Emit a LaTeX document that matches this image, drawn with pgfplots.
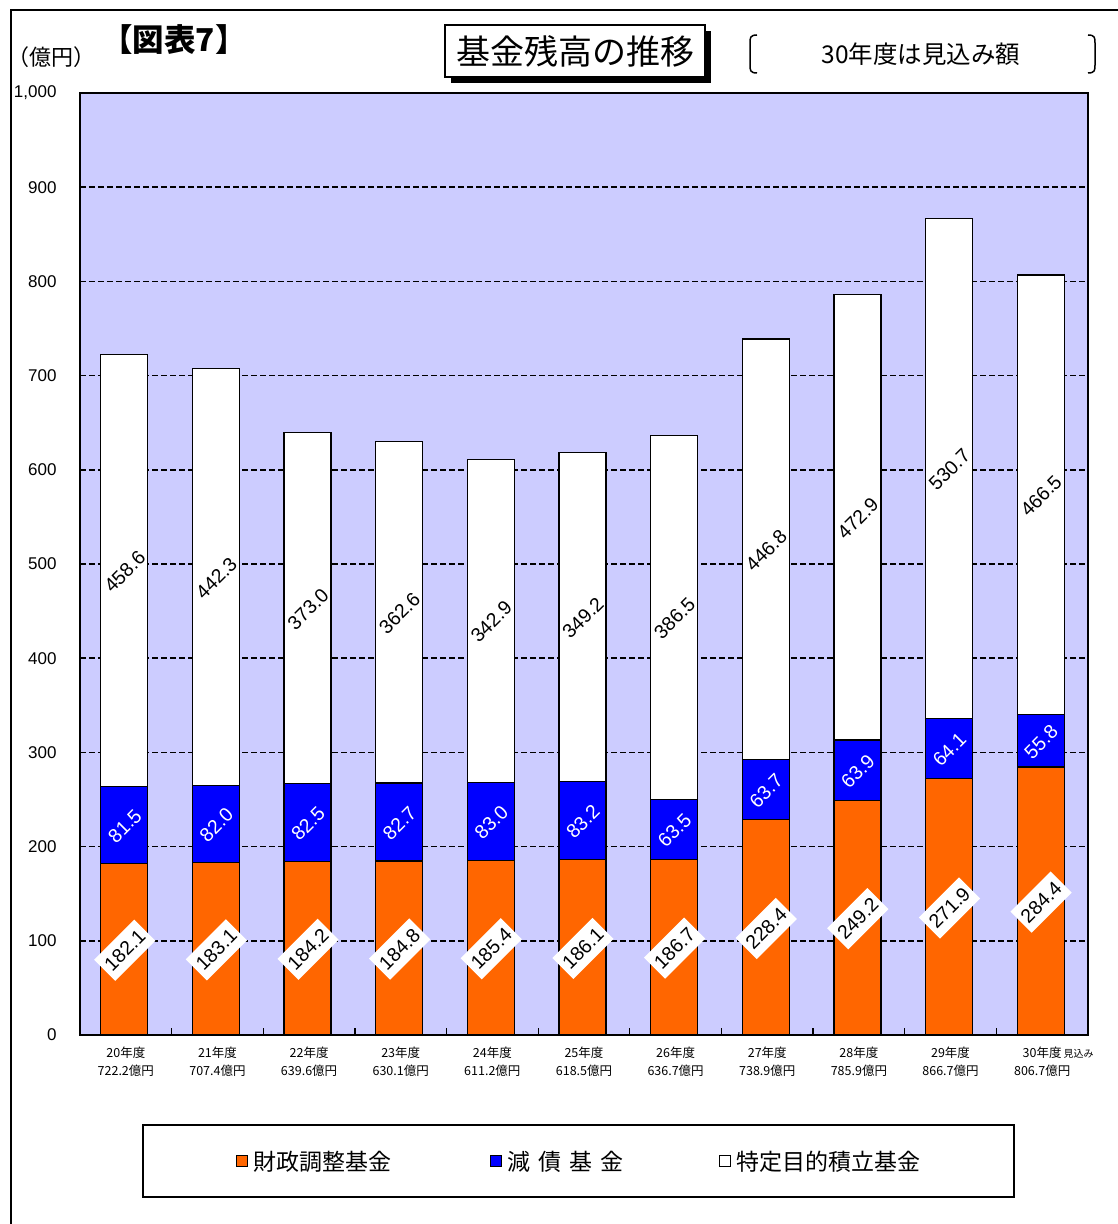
\documentclass[border=0pt]{standalone}
\usepackage{pgfplots}
\pgfplotsset{compat=1.18}
\usepackage{pgfplotstable}
\usepackage{fontspec}
\setmainfont{Noto Sans CJK JP}
\newfontfamily\latin{Liberation Sans}

\definecolor{plotbg}{HTML}{CCCCFF}
\definecolor{zaiseiC}{HTML}{FF6600}
\definecolor{gensaiC}{HTML}{0000FF}

% 基金残高（億円）: 財政調整基金 / 減債基金 / 特定目的積立基金
\pgfplotstableread{
x zaisei gensai tokutei
0 182.1 81.5 458.6
1 183.1 82.0 442.3
2 184.2 82.5 373.0
3 184.8 82.7 362.6
4 185.4 83.0 342.9
5 186.1 83.2 349.2
6 186.7 63.5 386.5
7 228.4 63.7 446.8
8 249.2 63.9 472.9
9 271.9 64.1 530.7
10 284.4 55.8 466.5
}\fund

\pgfplotsset{
  plotframe/.style={at={(80pt,189pt)}, anchor=south west, scale only axis,
    width=1008pt, height=942pt, xmin=-0.5, xmax=10.5, ymin=0, ymax=1000},
}

\begin{document}
\begin{tikzpicture}[x=1pt,y=1pt]
\useasboundingbox (0,0) rectangle (1118,1224);
% outer frame
\draw[line width=2pt] (11,0) -- (11,1214) -- (1118,1214);
% title box with shadow
\fill[black] (451,1141) rectangle (711,1193);
\draw[fill=white, line width=1.2pt] (445,1147) rectangle (705,1199);
\node at (575,1173) {\fontsize{34}{34}\selectfont 基金残高の推移};
\node at (174,1184) {\bfseries\fontsize{31.5}{31.5}\selectfont 【図表7】};
\node at (52,1167) {\fontsize{22}{22}\selectfont （億円）};
\node at (921,1170) {\fontsize{24.5}{24.5}\selectfont 30年度は見込み額};
\draw[line width=1.5pt] (757,1189) .. controls (750,1189) and (750,1186) .. (750,1181)
  -- (750,1159) .. controls (750,1154) and (750,1151) .. (757,1151);
\draw[line width=1.5pt] (1088,1189) .. controls (1095,1189) and (1095,1186) .. (1095,1181)
  -- (1095,1159) .. controls (1095,1154) and (1095,1151) .. (1088,1151);
% legend
\draw[line width=1.6pt] (143,27) rectangle (1014,99);
\draw[fill=zaiseiC, line width=1pt] (236,57) rectangle (247,68);
\node[anchor=west] at (250,62.5) {\fontsize{23}{23}\selectfont 財政調整基金};
\draw[fill=gensaiC, line width=1pt] (490,57) rectangle (501,68);
\node[anchor=west] at (504,62.5) {\fontsize{23}{23}\selectfont 減\hspace{8pt}債\hspace{8pt}基\hspace{8pt}金};
\draw[fill=white, line width=1pt] (719,57) rectangle (730,68);
\node[anchor=west] at (733,62.5) {\fontsize{23}{23}\selectfont 特定目的積立基金};

\begin{axis}[plotframe,
  ybar stacked, bar width=47pt, bar shift=-1.5pt,
  axis background/.style={fill=plotbg},
  axis line style={line width=1.8pt},
  ymajorgrids, grid style={black, line width=1.5pt, dash pattern=on 6pt off 3pt},
  ytick={0,100,...,1000},
  /pgf/number format/1000 sep={,},
  /pgf/number format/assume math mode=true,
  yticklabel style={font=\latin\fontsize{17}{17}\selectfont, xshift=-20pt},
  xtick={0,...,10},
  xticklabels={{20年度\\722.2億円},{21年度\\707.4億円},{22年度\\639.6億円},
    {23年度\\630.1億円},{24年度\\611.2億円},{25年度\\618.5億円},{26年度\\636.7億円},
    {27年度\\738.9億円},{28年度\\785.9億円},{29年度\\866.7億円},
    {30年度\rlap{\,\fontsize{10}{10}\selectfont 見込み}\\806.7億円}},
  xticklabel style={align=center, font=\fontsize{12.5}{18}\selectfont, yshift=-8pt},
  minor xtick={0.5,1.5,...,9.5},
  major tick length=0pt, minor tick length=7pt,
  tick align=inside, xtick pos=left, ytick pos=left,
  tick style={black, line width=1.2pt},
]
\addplot[fill=zaiseiC, draw=black, line width=1.2pt] table[x=x, y=zaisei]{\fund};
\addplot[fill=gensaiC, draw=black, line width=1.2pt] table[x=x, y=gensai]{\fund};
\addplot[fill=white, draw=black, line width=1.2pt] table[x=x, y=tokutei]{\fund};
\end{axis}

% value labels, centred in each segment
\begin{axis}[plotframe, hide axis, clip=false,
  nodes near coords, point meta=explicit symbolic,
  every node near coord/.append style={anchor=center, rotate=45, xshift=-1.5pt,
    font=\latin\fontsize{19.5}{19.5}\selectfont, inner sep=1pt}]
\addplot[draw=none, every node near coord/.append style={fill=white, text=black,
    inner xsep=4pt, inner ysep=8pt}]
  table[x=x, y expr=\thisrow{zaisei}/2, meta=zaisei]{\fund};
\addplot[draw=none, every node near coord/.append style={text=white}]
  table[x=x, y expr=\thisrow{zaisei}+\thisrow{gensai}/2, meta=gensai]{\fund};
\addplot[draw=none, every node near coord/.append style={text=black}]
  table[x=x, y expr=\thisrow{zaisei}+\thisrow{gensai}+\thisrow{tokutei}/2, meta=tokutei]{\fund};
\end{axis}
\end{tikzpicture}
\end{document}
